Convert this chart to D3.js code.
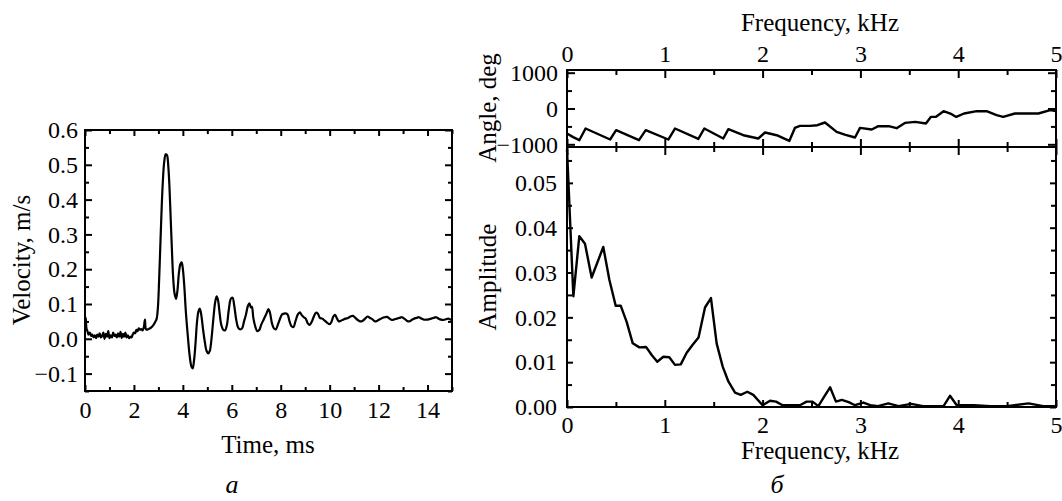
<!DOCTYPE html>
<html>
<head>
<meta charset="utf-8">
<script src="https://cdn.jsdelivr.net/npm/d3@7"></script>
<style>
  body { margin: 0; background: #fff; }
  svg text { font-family: "Liberation Serif", "Times New Roman", serif; fill: #000; }
</style>
</head>
<body>
<div id="chart"></div>
<script>
// velocity signal, [time ms, velocity m/s]
var velocity = [
  [0, 0.045], [0.03, 0.06], [0.06, 0.03], [0.1, 0.022], [0.14, 0.012], [0.2, 0.018], [0.25, 0.008],
  [0.3, 0.012], [0.35, 0.004], [0.4, 0.01], [0.45, 0.002], [0.5, 0.012], [0.55, 0.006], [0.6, 0.016],
  [0.65, 0.004], [0.7, 0.008], [0.75, 0.018], [0.8, 0.0], [0.85, 0.014], [0.9, 0.006], [0.95, 0.022],
  [1.0, 0.002], [1.05, 0.01], [1.1, 0.004], [1.15, 0.018], [1.2, 0.008], [1.25, 0.012], [1.3, 0.004],
  [1.35, 0.016], [1.4, 0.006], [1.45, 0.02], [1.5, 0.002], [1.55, 0.014], [1.6, 0.006], [1.65, 0.018],
  [1.7, 0.004], [1.75, 0.01], [1.8, 0.002], [1.85, 0.006], [1.9, 0.004], [1.95, 0.012], [2.0, 0.018],
  [2.05, 0.016], [2.1, 0.026], [2.15, 0.022], [2.2, 0.03], [2.25, 0.026], [2.3, 0.028], [2.35, 0.024],
  [2.4, 0.032], [2.45, 0.055], [2.48, 0.03], [2.52, 0.026], [2.6, 0.028], [2.7, 0.032], [2.8, 0.04],
  [2.88, 0.05], [2.93, 0.058],
  [2.98, 0.09], [3.03, 0.17], [3.08, 0.27], [3.13, 0.37], [3.18, 0.45], [3.24, 0.51], [3.3, 0.53],
  [3.35, 0.528], [3.4, 0.5], [3.45, 0.44], [3.5, 0.35], [3.55, 0.26], [3.6, 0.18], [3.66, 0.13],
  [3.72, 0.115], [3.78, 0.14], [3.84, 0.19], [3.9, 0.215], [3.95, 0.22], [4.0, 0.2], [4.06, 0.15],
  [4.12, 0.08], [4.2, 0.01], [4.28, -0.05], [4.35, -0.08], [4.4, -0.085], [4.46, -0.06], [4.52, -0.01],
  [4.58, 0.05], [4.64, 0.08], [4.69, 0.087], [4.75, 0.07], [4.82, 0.03], [4.9, -0.01], [4.97, -0.035],
  [5.04, -0.042], [5.1, -0.035], [5.17, 0.0], [5.25, 0.06], [5.32, 0.105], [5.38, 0.122], [5.44, 0.11],
  [5.5, 0.075], [5.57, 0.04], [5.64, 0.027], [5.72, 0.024], [5.8, 0.04], [5.88, 0.085], [5.96, 0.115],
  [6.03, 0.118], [6.1, 0.095], [6.18, 0.055], [6.26, 0.032], [6.34, 0.027], [6.42, 0.03], [6.5, 0.05],
  [6.58, 0.07], [6.66, 0.095], [6.72, 0.102], [6.78, 0.09], [6.82, 0.092], [6.88, 0.06], [6.96, 0.035],
  [7.04, 0.022], [7.12, 0.025], [7.2, 0.04], [7.3, 0.055], [7.4, 0.07], [7.5, 0.085], [7.56, 0.075],
  [7.64, 0.045], [7.72, 0.03], [7.8, 0.027], [7.88, 0.04], [7.96, 0.055], [8.05, 0.07], [8.12, 0.072],
  [8.2, 0.073], [8.28, 0.07], [8.36, 0.05], [8.44, 0.036], [8.52, 0.034], [8.6, 0.05], [8.7, 0.07],
  [8.78, 0.076], [8.86, 0.068], [8.94, 0.062], [9.02, 0.058], [9.1, 0.045], [9.18, 0.04], [9.26, 0.048],
  [9.34, 0.062], [9.44, 0.075], [9.52, 0.072], [9.6, 0.06], [9.7, 0.058], [9.8, 0.052], [9.9, 0.046],
  [10.0, 0.042], [10.08, 0.05], [10.15, 0.064], [10.22, 0.069], [10.3, 0.058], [10.38, 0.05],
  [10.46, 0.052], [10.55, 0.055], [10.65, 0.058], [10.75, 0.06], [10.85, 0.064], [10.95, 0.066],
  [11.05, 0.06], [11.15, 0.054], [11.25, 0.05], [11.35, 0.052], [11.45, 0.058], [11.55, 0.064],
  [11.65, 0.06], [11.75, 0.056], [11.85, 0.05], [11.95, 0.052], [12.05, 0.056], [12.15, 0.06],
  [12.25, 0.062], [12.35, 0.063], [12.45, 0.058], [12.55, 0.054], [12.65, 0.056], [12.75, 0.058],
  [12.85, 0.06], [12.95, 0.062], [13.05, 0.058], [13.15, 0.052], [13.25, 0.05], [13.35, 0.054],
  [13.45, 0.058], [13.55, 0.06], [13.65, 0.062], [13.75, 0.058], [13.85, 0.055], [13.95, 0.055],
  [14.05, 0.056], [14.15, 0.058], [14.25, 0.06], [14.35, 0.062], [14.45, 0.058], [14.55, 0.055],
  [14.65, 0.054], [14.75, 0.056], [14.85, 0.058], [14.95, 0.055], [15.0, 0.056]
];

// phase spectrum, [frequency kHz, angle deg]
var angle = [
  [0, -698], [0.063, -800], [0.126, -885], [0.19, -559], [0.441, -866], [0.502, -606], [0.736, -885],
  [0.805, -606], [1.036, -866], [1.104, -559], [1.343, -849], [1.404, -559], [1.598, -838], [1.65, -578],
  [1.803, -746], [1.956, -838], [2.025, -670], [2.144, -746], [2.273, -905], [2.33, -542], [2.382, -486],
  [2.485, -486], [2.56, -467], [2.638, -391], [2.757, -654], [2.84, -728], [2.945, -810], [2.996, -542],
  [3.116, -587], [3.183, -494], [3.29, -494], [3.37, -550], [3.455, -402], [3.56, -374], [3.67, -419],
  [3.72, -235], [3.77, -235], [3.85, -75], [3.92, -140], [3.98, -235], [4.06, -140], [4.19, -75],
  [4.29, -75], [4.393, -187], [4.46, -235], [4.58, -140], [4.82, -140], [4.94, -47], [5.0, -75]
];

// amplitude spectrum, [frequency kHz, amplitude]
var amplitude = [
  [0, 0.0575], [0.065, 0.0247], [0.126, 0.0381], [0.184, 0.0364], [0.252, 0.0289], [0.371, 0.0357],
  [0.433, 0.0284], [0.498, 0.0226], [0.549, 0.0226], [0.61, 0.019], [0.672, 0.0142], [0.74, 0.0133],
  [0.808, 0.0134], [0.866, 0.0116], [0.923, 0.0101], [0.985, 0.0112], [1.046, 0.0111], [1.104, 0.0094],
  [1.163, 0.0095], [1.224, 0.0121], [1.285, 0.0139], [1.345, 0.0155], [1.411, 0.0222], [1.472, 0.0243],
  [1.53, 0.0142], [1.592, 0.009], [1.65, 0.0057], [1.718, 0.0032], [1.776, 0.0027], [1.844, 0.0034],
  [1.905, 0.0027], [2.0, 0.0004], [2.076, 0.0014], [2.137, 0.0012], [2.205, 0.0004], [2.28, 0.0004],
  [2.382, 0.0004], [2.45, 0.0012], [2.51, 0.0012], [2.57, 0.0002], [2.63, 0.0023], [2.69, 0.0044],
  [2.75, 0.0012], [2.81, 0.0016], [2.88, 0.0011], [2.945, 0.0004], [3.03, 0.001], [3.1, 0.0004],
  [3.18, 0.0002], [3.285, 0.0008], [3.39, 0.0002], [3.52, 0.0007], [3.64, 0.0002], [3.85, 0.0002],
  [3.916, 0.0025], [3.985, 0.0004], [4.16, 0.0004], [4.33, 0.0002], [4.5, 0.0002], [4.72, 0.0008],
  [4.87, 0.0002], [5.0, 0.0002]
];

// tick values
var timeTicks = [0, 2, 4, 6, 8, 10, 12, 14];
var timeMinor = [1, 3, 5, 7, 9, 11, 13, 15];
var velTicks = [-0.1, 0.0, 0.1, 0.2, 0.3, 0.4, 0.5, 0.6];
var velMinor = [-0.15, -0.05, 0.05, 0.15, 0.25, 0.35, 0.45, 0.55];
var freqTicks = [0, 1, 2, 3, 4, 5];
var freqMinor = [0.5, 1.5, 2.5, 3.5, 4.5];
var angleTicks = [-1000, 0, 1000];
var angleMinor = [-500, 500];
var ampTicks = [0, 0.01, 0.02, 0.03, 0.04, 0.05];
var ampMinor = [0.005, 0.015, 0.025, 0.035, 0.045, 0.055];

var width = 1062, height = 501;
var tickFont = "24px", labelFont = "25px";

var svg = d3.select("#chart")
  .append("svg")
  .attr("width", width)
  .attr("height", height);

// scales
var xT = d3.scaleLinear().domain([0, 15]).range([85, 452]);
var yV = d3.scaleLinear().domain([-0.15, 0.6]).range([391, 130]);
var xF = d3.scaleLinear().domain([0, 5]).range([567, 1056]);
var yAng = d3.scaleLinear().domain([-1075, 1075]).range([147, 70]);
var yAmp = d3.scaleLinear().domain([0, 0.058]).range([407, 147]);

// draws one axis; size is inward tick length, negative numbers point inward
function axis(gen, pos, vals, size, labels, fmt, pad) {
  var a = gen.tickValues(vals).tickSizeOuter(0).tickSizeInner(size).tickPadding(pad || 8);
  if (labels) a.tickFormat(fmt || null); else a.tickFormat("");
  var g = svg.append("g")
    .attr("transform", pos)
    .style("font-size", tickFont)
    .call(a);
  g.select(".domain").remove();
  g.selectAll("line").attr("stroke", "#000").attr("stroke-width", 2);
  g.selectAll("text").attr("fill", "#000").style("font-family", "Liberation Serif, serif");
  return g;
}

function frame(x0, x1, y0, y1) {
  svg.append("rect")
    .attr("x", x0).attr("y", y0)
    .attr("width", x1 - x0).attr("height", y1 - y0)
    .attr("fill", "none").attr("stroke", "#000").attr("stroke-width", 2);
}

// ---- left: velocity vs time ----
axis(d3.axisBottom(xT), "translate(0,391)", timeTicks, -6, true, d3.format("d"), 10);
axis(d3.axisBottom(xT), "translate(0,391)", timeMinor, -4, false);
axis(d3.axisTop(xT), "translate(0,130)", timeTicks, -6, false);
axis(d3.axisTop(xT), "translate(0,130)", timeMinor, -4, false);
axis(d3.axisLeft(yV), "translate(85,0)", velTicks, -7, true, d3.format(".1f"), 7);
axis(d3.axisLeft(yV), "translate(85,0)", velMinor, -4, false);
axis(d3.axisRight(yV), "translate(452,0)", velTicks, -7, false);
axis(d3.axisRight(yV), "translate(452,0)", velMinor, -4, false);
frame(85, 452, 130, 391);

svg.append("path")
  .datum(velocity)
  .attr("fill", "none")
  .attr("stroke", "#000")
  .attr("stroke-width", 2.2)
  .attr("stroke-linejoin", "round")
  .attr("d", d3.line()
    .x(function(d) { return xT(d[0]); })
    .y(function(d) { return yV(d[1]); })
    .curve(d3.curveCatmullRom.alpha(0.5)));

svg.append("text")
  .attr("transform", "translate(30,260) rotate(-90)")
  .attr("text-anchor", "middle")
  .style("font-size", labelFont)
  .text("Velocity, m/s");

svg.append("text")
  .attr("x", 268).attr("y", 453)
  .attr("text-anchor", "middle")
  .style("font-size", labelFont)
  .text("Time, ms");

svg.append("text")
  .attr("x", 232).attr("y", 493)
  .attr("text-anchor", "middle")
  .style("font-size", "26px")
  .style("font-style", "italic")
  .text("а");

// ---- right top: angle ----
axis(d3.axisTop(xF), "translate(0,70)", freqTicks, -8, true, d3.format("d"), 8);
axis(d3.axisTop(xF), "translate(0,70)", freqMinor, -5, false);
// ticks crossing the shared line between the two panels
axis(d3.axisBottom(xF), "translate(0,147)", freqTicks, 8, false);
axis(d3.axisTop(xF), "translate(0,147)", freqTicks, 8, false);
axis(d3.axisBottom(xF), "translate(0,147)", freqMinor, 5, false);
axis(d3.axisTop(xF), "translate(0,147)", freqMinor, 5, false);
axis(d3.axisLeft(yAng), "translate(567,0)", angleTicks, -8, true, d3.format("d"), 9);
axis(d3.axisLeft(yAng), "translate(567,0)", angleMinor, -5, false);
axis(d3.axisRight(yAng), "translate(1056,0)", angleTicks, -8, false);
axis(d3.axisRight(yAng), "translate(1056,0)", angleMinor, -5, false);
frame(567, 1056, 70, 147);

svg.append("path")
  .datum(angle)
  .attr("fill", "none")
  .attr("stroke", "#000")
  .attr("stroke-width", 2.4)
  .attr("stroke-linejoin", "round")
  .attr("d", d3.line()
    .x(function(d) { return xF(d[0]); })
    .y(function(d) { return yAng(d[1]); }));

svg.append("text")
  .attr("x", 820).attr("y", 31)
  .attr("text-anchor", "middle")
  .style("font-size", labelFont)
  .text("Frequency, kHz");

svg.append("text")
  .attr("transform", "translate(496,108) rotate(-90)")
  .attr("text-anchor", "middle")
  .style("font-size", labelFont)
  .text("Angle, deg");

// ---- right bottom: amplitude ----
axis(d3.axisBottom(xF), "translate(0,407)", freqTicks, -7, true, d3.format("d"), 9);
axis(d3.axisBottom(xF), "translate(0,407)", freqMinor, -5, false);
axis(d3.axisLeft(yAmp), "translate(567,0)", ampTicks, -6, true, d3.format(".2f"), 10);
axis(d3.axisLeft(yAmp), "translate(567,0)", ampMinor, -5, false);
axis(d3.axisRight(yAmp), "translate(1056,0)", ampTicks, -6, false);
axis(d3.axisRight(yAmp), "translate(1056,0)", ampMinor, -5, false);
frame(567, 1056, 147, 407);

svg.append("path")
  .datum(amplitude)
  .attr("fill", "none")
  .attr("stroke", "#000")
  .attr("stroke-width", 2.4)
  .attr("stroke-linejoin", "round")
  .attr("d", d3.line()
    .x(function(d) { return xF(d[0]); })
    .y(function(d) { return yAmp(d[1]); }));

svg.append("text")
  .attr("transform", "translate(496,277) rotate(-90)")
  .attr("text-anchor", "middle")
  .style("font-size", labelFont)
  .text("Amplitude");

svg.append("text")
  .attr("x", 820).attr("y", 459)
  .attr("text-anchor", "middle")
  .style("font-size", labelFont)
  .text("Frequency, kHz");

svg.append("text")
  .attr("x", 777).attr("y", 493)
  .attr("text-anchor", "middle")
  .style("font-size", "26px")
  .style("font-style", "italic")
  .text("б");
</script>
</body>
</html>
